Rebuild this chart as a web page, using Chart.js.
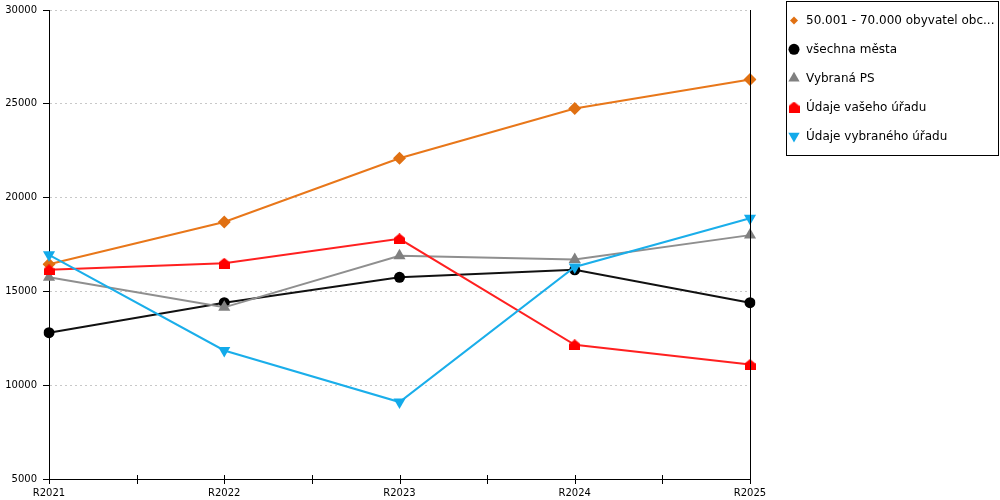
<!DOCTYPE html>
<html><head><meta charset="utf-8">
<script src="https://cdn.jsdelivr.net/npm/chart.js@4"></script>
<style>html,body{margin:0;padding:0;background:#fff}#wrap{width:1000px;height:500px;position:relative}</style>
</head><body><div id="wrap"><canvas id="c"></canvas></div>
<script>
const categories = ['R2021','R2022','R2023','R2024','R2025'];
const seriesLabels = ['50.001 - 70.000 obyvatel obc...','všechna města','Vybraná PS','Údaje vašeho úřadu','Údaje vybraného úřadu'];
const seriesObce = [16450, 18700, 22100, 24750, 26300];
const seriesMesta = [12800, 14400, 15750, 16150, 14400];
const seriesPS = [15750, 14150, 16900, 16700, 18000];
const seriesVas = [16150, 16500, 17800, 12150, 11100];
const seriesVybrany = [16950, 11850, 9100, 16300, 18900];
const yMin = 5000, yMax = 30000, yStep = 5000;

function makeHouse(color){
  const c=document.createElement('canvas'); c.width=11; c.height=11;
  const g=c.getContext('2d'); g.fillStyle=color;
  g.beginPath(); g.moveTo(5.5,0); g.lineTo(11,4.5); g.lineTo(11,11); g.lineTo(0,11); g.lineTo(0,4.5); g.closePath(); g.fill();
  return c;
}
const house = makeHouse('#ff0000');

const styles = [
  {line:'#e8771a', fill:'#e07012', style:'rectRot', r:6.5, rot:0, lr:4},
  {line:'#111111', fill:'#000000', style:'circle', r:5.5, rot:0, lr:5.5},
  {line:'#8f8f8f', fill:'#808080', style:'triangle', r:7, rot:0, lr:6.5},
  {line:'#ff2020', fill:'#ff0000', style:house, r:6, rot:0, lr:6},
  {line:'#1aaeea', fill:'#12aaea', style:'triangle', r:7, rot:180, lr:6.5}
];
const seriesData = [seriesObce, seriesMesta, seriesPS, seriesVas, seriesVybrany];

const datasets = seriesData.map((d,i)=>({
  label: seriesLabels[i], data: d,
  borderColor: styles[i].line, backgroundColor: styles[i].fill,
  pointBackgroundColor: styles[i].fill, pointBorderColor: styles[i].fill,
  pointStyle: styles[i].style, pointRadius: styles[i].r, pointRotation: styles[i].rot,
  pointBorderWidth: 0, borderWidth: 2, tension: 0, fill: false,
  order: seriesData.length - i
}));

function drawMarker(ctx, st, x, y){
  ctx.save(); ctx.fillStyle = st.fill;
  const r = st.lr;
  if (st.style === 'circle'){ ctx.beginPath(); ctx.arc(x,y,r,0,Math.PI*2); ctx.fill(); }
  else if (st.style === 'rectRot'){ ctx.beginPath(); ctx.moveTo(x,y-r); ctx.lineTo(x+r,y); ctx.lineTo(x,y+r); ctx.lineTo(x-r,y); ctx.closePath(); ctx.fill(); }
  else if (st.style === 'triangle'){
    const s = st.rot===180 ? -1 : 1;
    ctx.beginPath(); ctx.moveTo(x, y - s*r); ctx.lineTo(x + r*0.866, y + s*r*0.5); ctx.lineTo(x - r*0.866, y + s*r*0.5); ctx.closePath(); ctx.fill();
  } else { ctx.drawImage(st.style, x - st.style.width/2, y - st.style.height/2); }
  ctx.restore();
}

const extras = {
  id:'extras',
  afterDraw(chart){
    const ctx = chart.ctx, a = chart.chartArea, xs = chart.scales.x;
    ctx.save();
    ctx.strokeStyle='#000'; ctx.lineWidth=1;
    ctx.beginPath(); ctx.moveTo(Math.round(a.right)+0.5, a.top); ctx.lineTo(Math.round(a.right)+0.5, a.bottom); ctx.stroke();
    for (let v=0; v<=categories.length-1+1e-9; v+=0.5){
      const px = Math.round(xs.getPixelForValue(v))+0.5;
      ctx.beginPath(); ctx.moveTo(px, a.bottom-4); ctx.lineTo(px, a.bottom+5); ctx.stroke();
    }
    ctx.strokeRect(786.5, 1.5, 212, 154);
    ctx.font = '12px "DejaVu Sans"'; ctx.fillStyle='#000'; ctx.textBaseline='middle'; ctx.textAlign='left';
    seriesLabels.forEach((t,i)=>{
      const y = 20.5 + i*28.85;
      drawMarker(ctx, styles[i], 794, y);
      ctx.fillText(t, 806, y+0.5);
    });
    ctx.restore();
  }
};

new Chart(document.getElementById('c'), {
  type:'line',
  data:{labels:categories, datasets},
  options:{
    responsive:true, maintainAspectRatio:false, animation:false,
    layout:{padding:{left:0,right:250,top:10,bottom:0}},
    plugins:{legend:{display:false}, tooltip:{enabled:false}},
    scales:{
      x:{
        type:'category', offset:false,
        grid:{display:true, drawOnChartArea:false, drawTicks:false},
        border:{display:true, color:'#000', width:1},
        ticks:{color:'#000', font:{family:'DejaVu Sans', size:10}, padding:8, maxRotation:0, autoSkip:false},
        afterFit(s){ s.height = 21; s.paddingLeft = 0; s.paddingRight = 0; }
      },
      y:{
        min:yMin, max:yMax,
        ticks:{stepSize:yStep, color:'#000', font:{family:'DejaVu Sans', size:10}, padding:6, callback:(v)=>String(v)},
        grid:{color:'#c8c8c8', tickColor:'#000', tickLength:6, tickBorderDash:[], lineWidth:1},
        border:{display:true, color:'#000', width:1, dash:[2,3]},
        afterFit(s){ s.width = 49; s.paddingTop = 0; s.paddingBottom = 0; }
      }
    }
  },
  plugins:[extras]
});
</script></body></html>
